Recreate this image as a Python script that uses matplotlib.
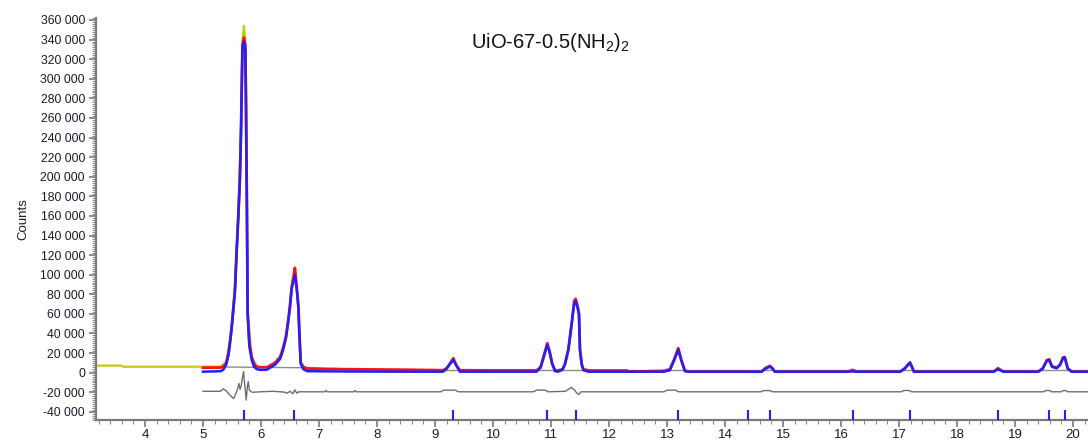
import matplotlib
matplotlib.use("Agg")
import matplotlib.pyplot as plt
from matplotlib.ticker import MultipleLocator, FuncFormatter

plt.rcParams['font.family'] = ['Liberation Sans', 'DejaVu Sans']
plt.rcParams['mathtext.fontset'] = 'custom'
plt.rcParams['mathtext.rm'] = 'Liberation Sans'

# --- data -----------------------------------------------------------------
# refinement grid (2theta, degrees)
two_theta = [
    5.00, 5.30, 5.35, 5.40, 5.44, 5.47, 5.50, 5.52, 5.55, 5.58, 5.61, 5.635,
    5.655, 5.68, 5.705, 5.73, 5.74, 5.755, 5.77, 5.80, 5.84, 5.88, 5.93, 6.00,
    6.10, 6.24, 6.33, 6.38, 6.43, 6.47, 6.50, 6.53, 6.555, 6.585, 6.615, 6.645,
    6.66, 6.685, 6.73, 6.80,
    7.50, 8.50, 9.14, 9.20, 9.26, 9.316, 9.37, 9.43, 10.00,
    10.75, 10.82, 10.88, 10.937, 10.98, 11.02, 11.07, 11.12, 11.20, 11.24,
    11.30, 11.356, 11.40, 11.425, 11.46, 11.483, 11.50, 11.53, 11.56, 11.65,
    12.30, 12.35, 12.95, 13.05, 13.12, 13.195, 13.25, 13.31, 13.38,
    14.63, 14.70, 14.776, 14.82, 14.86,
    16.12, 16.20, 16.27,
    17.02, 17.10, 17.19, 17.26,
    18.63, 18.71, 18.80,
    19.40, 19.48, 19.55, 19.59, 19.64, 19.72, 19.78, 19.83, 19.86, 19.91,
    19.98, 20.26,
]

counts_obs = [
    5100, 5200, 6000, 10000, 20000, 34000, 50000, 64000, 84000, 125000, 162000, 197000,
    246000, 334000, 342000, 334000, 280000, 186000, 62000, 30000, 16000, 9000, 6000, 5500,
    5500, 10000, 16000, 25000, 37000, 54000, 69000, 88000, 96000, 107000, 88000, 68000,
    44000, 10000, 6000, 4200,
    3500, 3000, 2500, 4500, 9500, 14700, 7500, 2500, 2300,
    2300, 5500, 18000, 30000, 21000, 9500, 2500, 2200, 3500, 9000,
    24000, 50000, 73000, 75300, 68000, 60000, 24000, 9000, 3500, 2200,
    2200, 1000, 1800, 3500, 13000, 25000, 12500, 2000, 1000,
    1000, 4800, 6900, 4500, 1000,
    1000, 2800, 1000,
    1000, 4500, 10600, 1000,
    1000, 4500, 1000,
    1000, 4500, 12800, 13700, 6500, 5000, 8500, 15500, 15800, 4500,
    1000, 1000,
]

counts_calc = [
    1000, 1500, 3000, 8000, 18000, 32000, 48000, 62000, 82000, 123000, 160000, 195000,
    244000, 330000, 338000, 330000, 276000, 183000, 59000, 26700, 13000, 6000, 3500, 2800,
    3000, 8000, 14000, 23000, 35000, 52000, 67000, 86000, 92000, 100000, 86000, 66000,
    42000, 9000, 3500, 1500,
    1200, 1000, 1000, 4000, 9000, 13000, 7000, 1000, 1000,
    1000, 5000, 17000, 28500, 20000, 9000, 1500, 1000, 3000, 8000,
    23000, 49000, 70000, 73000, 66000, 59000, 23000, 8000, 2500, 1000,
    1000, 1000, 1000, 2500, 12000, 23300, 12000, 1500, 1000,
    1000, 4000, 6200, 4000, 1000,
    1000, 1300, 1000,
    1000, 4000, 10000, 1000,
    1000, 3500, 1000,
    1000, 4000, 12000, 13000, 6000, 4500, 8000, 15000, 15500, 4000,
    1000, 1000,
]

# full raw scan (low-angle part and strongest reflection)
raw_two_theta = [3.15, 3.60, 3.62, 5.00, 5.30, 5.40, 5.47, 5.55, 5.61, 5.655,
                 5.68, 5.705, 5.73, 5.745, 5.755, 5.77, 5.84, 5.93]
raw_counts = [7200, 7200, 6100, 6100, 6200, 11000, 35000, 85000, 163000, 248000,
              338000, 354000, 340000, 288000, 190000, 62000, 16000, 6000]

# background
bkg_two_theta = [5.00, 6.80, 7.50, 9.00, 20.26]
bkg_counts = [6000, 5000, 3000, 2200, 2200]

# difference curve (offset)
diff_two_theta = [
    5.00, 5.30, 5.35, 5.40, 5.45, 5.50, 5.53, 5.56, 5.59, 5.62, 5.64, 5.66,
    5.68, 5.70, 5.715, 5.73, 5.745, 5.765, 5.78, 5.80, 5.85, 6.00, 6.20, 6.40,
    6.45, 6.50, 6.55, 6.58, 6.62, 6.65, 7.10, 7.12, 7.14, 7.60, 7.62, 7.64,
    9.10, 9.15, 9.35, 9.40, 10.70, 10.75, 10.90, 10.95, 11.25, 11.30, 11.35,
    11.40, 11.45, 11.48, 11.52, 12.95, 13.00, 13.15, 13.20, 14.62, 14.66,
    14.78, 14.82, 17.05, 17.08, 17.18, 17.22, 19.50, 19.53, 19.60, 19.63,
    19.80, 19.83, 19.88, 19.91, 20.26,
]
diff_counts = [
    -19000, -19000, -16500, -18500, -22000, -25000, -26300, -22000, -18000, -11000, -17000, -13000,
    -5000, 1000, -10000, -18000, -28000, -14000, -9000, -18000, -20000, -19500, -19000, -19800,
    -21000, -19000, -21500, -17500, -21000, -19500, -19500, -18000, -19500, -19500, -18200, -19500,
    -19500, -17800, -17800, -19500, -19500, -17800, -17800, -19500, -19000, -17000, -15000,
    -17500, -21000, -22200, -19500, -19500, -17800, -17800, -19500, -19500, -18300,
    -18300, -19500, -19500, -18200, -18200, -19500, -19500, -18200, -18200, -19500,
    -19500, -18300, -18300, -19500, -19500,
]

# Bragg reflection positions
bragg_positions = [5.70, 6.575, 9.316, 10.937, 11.425, 13.195, 14.39, 14.776,
                   16.20, 17.19, 18.71, 19.59, 19.86]

title = r'UiO-67-0.5(NH$_2$)$_2$'

# --- figure ---------------------------------------------------------------
W, H = 1088, 443
fig = plt.figure(figsize=(W / 100, H / 100), dpi=100)
ax = fig.add_axes([96 / W, 23 / H, 1 - 96 / W, 402 / H])

ax.plot(bkg_two_theta, bkg_counts, color='#8c8c8c', lw=1.0, zorder=1)
ax.plot(diff_two_theta, diff_counts, color='#6e6e6e', lw=1.0, zorder=1)
ax.plot(raw_two_theta, raw_counts, color='#c8c814', lw=1.6, zorder=2)
ax.plot(two_theta, counts_obs, color='#ff1010', lw=2.0, zorder=3)
ax.plot(two_theta, counts_calc, color='#2020ff', lw=1.8, zorder=4)
ax.vlines(bragg_positions, -38500, -48000, color='#2020ff', lw=1.5, zorder=4)

ax.set_xlim(3.155, 20.26)
ax.set_ylim(-48300, 362000)

for side in ('top', 'right'):
    ax.spines[side].set_visible(False)
for side in ('left', 'bottom'):
    ax.spines[side].set_color('#7a7a7a')
    ax.spines[side].set_linewidth(1.6)

ax.xaxis.set_major_locator(MultipleLocator(1))
ax.xaxis.set_minor_locator(MultipleLocator(0.2))
ax.yaxis.set_major_locator(MultipleLocator(20000))
ax.yaxis.set_minor_locator(MultipleLocator(2000))


def thousands(v, pos):
    s = f"{int(round(abs(v))):,}".replace(",", " ")
    return ("-" + s) if v < 0 else s


ax.yaxis.set_major_formatter(FuncFormatter(thousands))
ax.tick_params(axis='both', which='major', length=5, width=1.2, color='#7a7a7a',
               labelcolor='#1a1a2a', direction='out')
ax.tick_params(axis='both', which='minor', length=3, width=0.8, color='#909090',
               direction='out')
ax.tick_params(axis='y', which='major', labelsize=8.8, pad=3)
ax.tick_params(axis='x', which='major', labelsize=9.5, pad=1.5)

ax.set_ylabel('Counts', fontsize=9.5, color='#1a1a2a', labelpad=8)

fig.text(550 / W, 1 - 42 / H, title, fontsize=14.5, ha='center', va='center',
         color='#111111')

fig.savefig('out.png', dpi=100)
